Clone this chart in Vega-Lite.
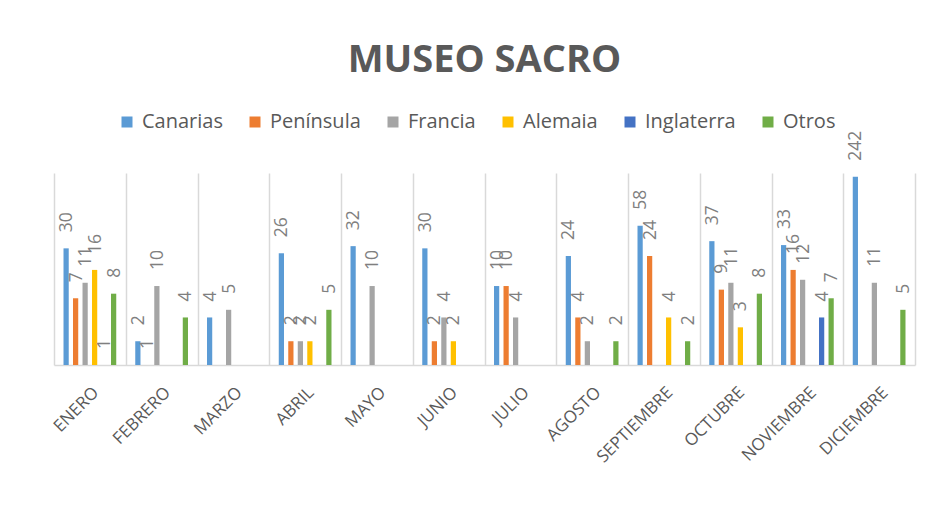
{
  "$schema": "https://vega.github.io/schema/vega-lite/v6.json",
  "width": 861,
  "height": 192,
  "autosize": {"type": "none"},
  "padding": {"left": 54, "top": 173, "right": 19, "bottom": 146},
  "background": "white",
  "title": {
    "text": "MUSEO SACRO",
    "font": "Open Sans",
    "fontSize": 38,
    "fontWeight": "bold",
    "color": "#595959",
    "anchor": "middle",
    "offset": 32
  },
  "config": {
    "view": {"stroke": null},
    "font": "Open Sans"
  },
  "data": {
    "values": [
      {"mes": "ENERO", "pais": "Canarias", "v": 30},
      {"mes": "ENERO", "pais": "Península", "v": 7},
      {"mes": "ENERO", "pais": "Francia", "v": 11},
      {"mes": "ENERO", "pais": "Alemaia", "v": 16},
      {"mes": "ENERO", "pais": "Inglaterra", "v": 1},
      {"mes": "ENERO", "pais": "Otros", "v": 8},
      {"mes": "FEBRERO", "pais": "Canarias", "v": 2},
      {"mes": "FEBRERO", "pais": "Península", "v": 1},
      {"mes": "FEBRERO", "pais": "Francia", "v": 10},
      {"mes": "FEBRERO", "pais": "Otros", "v": 4},
      {"mes": "MARZO", "pais": "Canarias", "v": 4},
      {"mes": "MARZO", "pais": "Francia", "v": 5},
      {"mes": "ABRIL", "pais": "Canarias", "v": 26},
      {"mes": "ABRIL", "pais": "Península", "v": 2},
      {"mes": "ABRIL", "pais": "Francia", "v": 2},
      {"mes": "ABRIL", "pais": "Alemaia", "v": 2},
      {"mes": "ABRIL", "pais": "Otros", "v": 5},
      {"mes": "MAYO", "pais": "Canarias", "v": 32},
      {"mes": "MAYO", "pais": "Francia", "v": 10},
      {"mes": "JUNIO", "pais": "Canarias", "v": 30},
      {"mes": "JUNIO", "pais": "Península", "v": 2},
      {"mes": "JUNIO", "pais": "Francia", "v": 4},
      {"mes": "JUNIO", "pais": "Alemaia", "v": 2},
      {"mes": "JULIO", "pais": "Canarias", "v": 10},
      {"mes": "JULIO", "pais": "Península", "v": 10},
      {"mes": "JULIO", "pais": "Francia", "v": 4},
      {"mes": "AGOSTO", "pais": "Canarias", "v": 24},
      {"mes": "AGOSTO", "pais": "Península", "v": 4},
      {"mes": "AGOSTO", "pais": "Francia", "v": 2},
      {"mes": "AGOSTO", "pais": "Otros", "v": 2},
      {"mes": "SEPTIEMBRE", "pais": "Canarias", "v": 58},
      {"mes": "SEPTIEMBRE", "pais": "Península", "v": 24},
      {"mes": "SEPTIEMBRE", "pais": "Alemaia", "v": 4},
      {"mes": "SEPTIEMBRE", "pais": "Otros", "v": 2},
      {"mes": "OCTUBRE", "pais": "Canarias", "v": 37},
      {"mes": "OCTUBRE", "pais": "Península", "v": 9},
      {"mes": "OCTUBRE", "pais": "Francia", "v": 11},
      {"mes": "OCTUBRE", "pais": "Alemaia", "v": 3},
      {"mes": "OCTUBRE", "pais": "Otros", "v": 8},
      {"mes": "NOVIEMBRE", "pais": "Canarias", "v": 33},
      {"mes": "NOVIEMBRE", "pais": "Península", "v": 16},
      {"mes": "NOVIEMBRE", "pais": "Francia", "v": 12},
      {"mes": "NOVIEMBRE", "pais": "Inglaterra", "v": 4},
      {"mes": "NOVIEMBRE", "pais": "Otros", "v": 7},
      {"mes": "DICIEMBRE", "pais": "Canarias", "v": 242},
      {"mes": "DICIEMBRE", "pais": "Francia", "v": 11},
      {"mes": "DICIEMBRE", "pais": "Otros", "v": 5}
    ]
  },
  "encoding": {
    "x": {
      "field": "mes",
      "type": "nominal",
      "sort": ["ENERO", "FEBRERO", "MARZO", "ABRIL", "MAYO", "JUNIO", "JULIO", "AGOSTO", "SEPTIEMBRE", "OCTUBRE", "NOVIEMBRE", "DICIEMBRE"],
      "scale": {"paddingInner": 0, "paddingOuter": 0},
      "axis": {
        "title": null,
        "labelAngle": -45,
        "labelFontSize": 17,
        "labelFont": "Open Sans",
        "labelColor": "#595959",
        "labelPadding": 19,
        "ticks": false,
        "domainColor": "#d9d9d9",
        "domainWidth": 1.5,
        "grid": true,
        "gridColor": "#d9d9d9",
        "gridWidth": 1.5,
        "tickBand": "extent"
      }
    },
    "xOffset": {
      "field": "pais",
      "type": "nominal",
      "sort": ["Canarias", "Península", "Francia", "Alemaia", "Inglaterra", "Otros"],
      "scale": {"domain": ["Canarias", "Península", "Francia", "Alemaia", "Inglaterra", "Otros"], "paddingInner": 0.45, "paddingOuter": 1.07}
    },
    "y": {
      "field": "v",
      "type": "quantitative",
      "scale": {"type": "log", "domain": [1, 270], "nice": false},
      "axis": null
    }
  },
  "layer": [
    {
      "mark": {"type": "bar"},
      "encoding": {
        "y2": {"datum": 1},
        "color": {
          "field": "pais",
          "type": "nominal",
          "scale": {
            "domain": ["Canarias", "Península", "Francia", "Alemaia", "Inglaterra", "Otros"],
            "range": ["#5B9BD5", "#ED7D31", "#A5A5A5", "#FFC000", "#4472C4", "#70AD47"]
          },
          "legend": {
            "orient": "none",
            "direction": "horizontal",
            "legendX": 63,
            "legendY": -61,
            "title": null,
            "symbolType": "square",
            "symbolSize": 121,
            "symbolStrokeWidth": 0,
            "symbolOpacity": 1,
            "labelFontSize": 20,
            "labelFont": "Open Sans",
            "labelColor": "#595959",
            "labelOffset": 5,
            "columnPadding": 22
          }
        }
      }
    },
    {
      "mark": {"type": "text", "angle": 270, "align": "left", "baseline": "middle", "dx": 16, "dy": 1, "fontSize": 17.5, "font": "Open Sans", "color": "#7f7f7f"},
      "encoding": {
        "text": {"field": "v", "type": "quantitative"}
      }
    }
  ]
}
